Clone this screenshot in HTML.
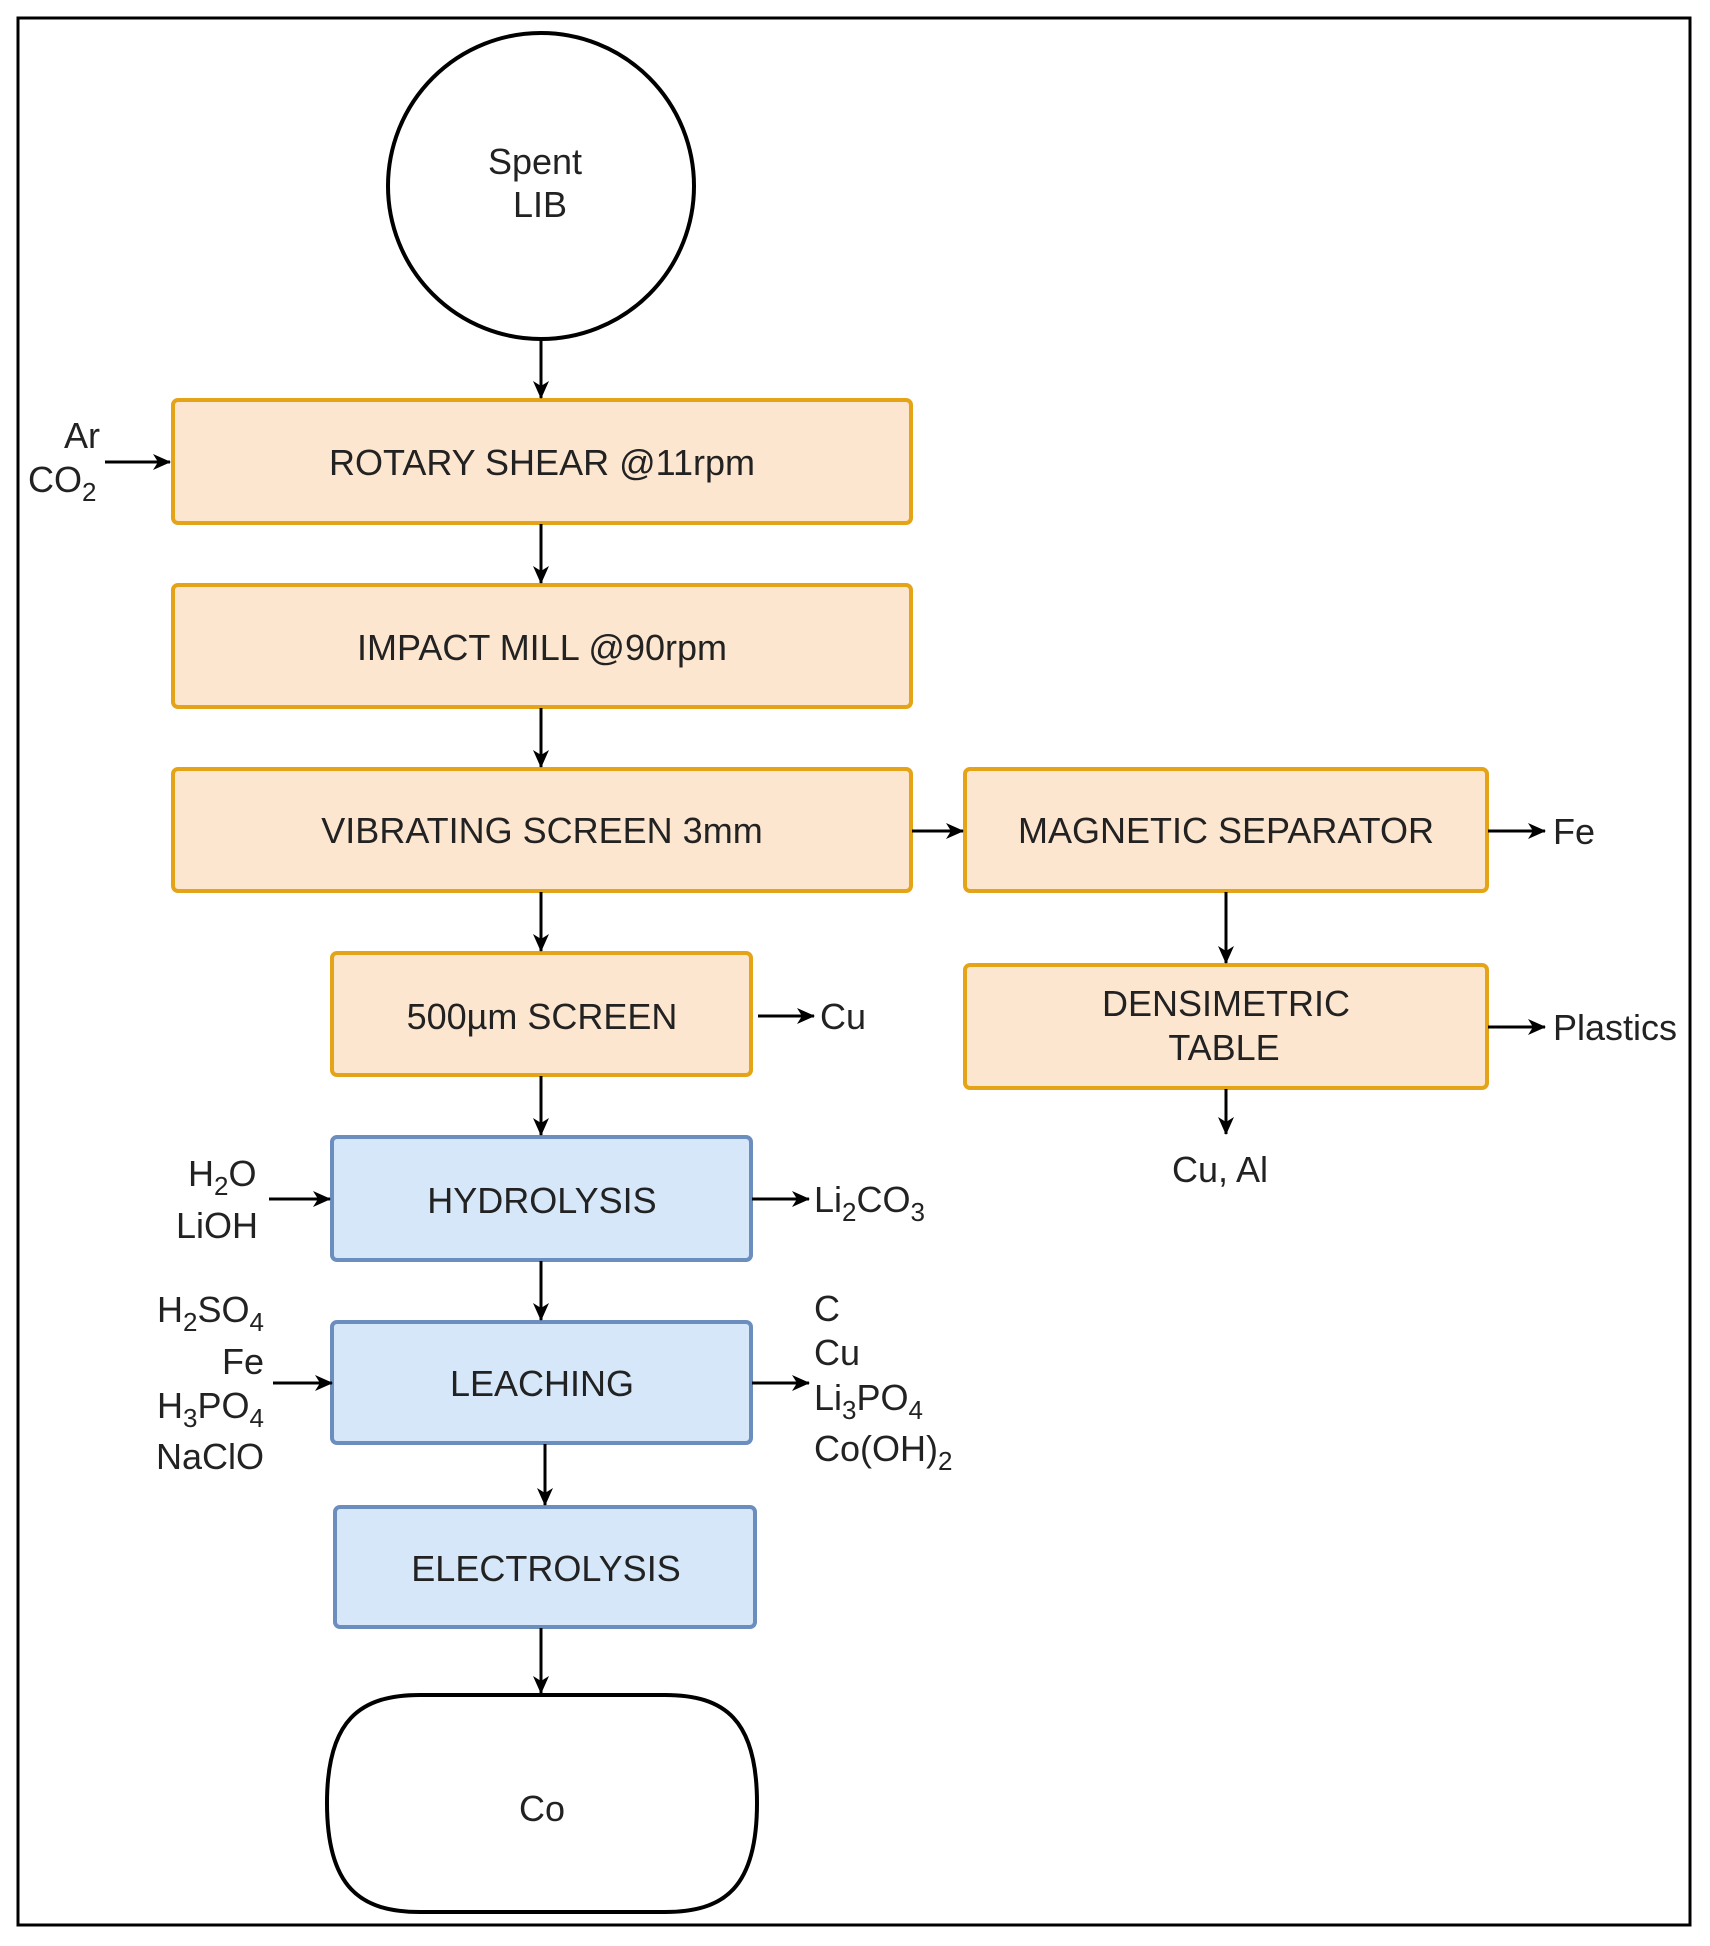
<!DOCTYPE html>
<html><head><meta charset="utf-8"><style>
html,body{margin:0;padding:0;background:#fff}
svg{display:block}
text{font-family:"Liberation Sans",sans-serif;font-size:36px;fill:#222}
</style></head><body>
<svg width="1710" height="1946" viewBox="0 0 1710 1946" xmlns="http://www.w3.org/2000/svg">
<defs>
<marker id="a" markerWidth="18" markerHeight="16" refX="17" refY="8" orient="auto" markerUnits="userSpaceOnUse" viewBox="0 0 18 16">
<path d="M0,0 L18,8 L0,16 L5,8 z" fill="#000"/>
</marker>
</defs>
<style>
.ar{stroke:#000;stroke-width:3;fill:none}
</style>
<rect x="18" y="18" width="1672" height="1907" fill="#fff" stroke="#000" stroke-width="3"/>
<circle cx="541" cy="186" r="153" fill="#fff" stroke="#000" stroke-width="4"/>
<text x="535" y="174" text-anchor="middle">Spent</text>
<text x="540" y="217" text-anchor="middle">LIB</text>

<g fill="#fde6cf" stroke="#e5a417" stroke-width="4">
<rect x="173" y="400" width="738" height="123" rx="5"/>
<rect x="173" y="585" width="738" height="122" rx="5"/>
<rect x="173" y="769" width="738" height="122" rx="5"/>
<rect x="965" y="769" width="522" height="122" rx="5"/>
<rect x="332" y="953" width="419" height="122" rx="5"/>
<rect x="965" y="965" width="522" height="123" rx="5"/>
</g>
<g fill="#d5e7f8" stroke="#6c8ebf" stroke-width="4">
<rect x="332" y="1137" width="419" height="123" rx="5"/>
<rect x="332" y="1322" width="419" height="121" rx="5"/>
<rect x="335" y="1507" width="420" height="120" rx="5"/>
</g>
<path d="M327,1803 C327,1720 360,1695 420,1695 L665,1695 C725,1695 757,1720 757,1803 C757,1887 725,1912 665,1912 L420,1912 C360,1912 327,1887 327,1803 Z" fill="#fff" stroke="#000" stroke-width="4"/>

<g text-anchor="middle">
<text x="542" y="475">ROTARY SHEAR @11rpm</text>
<text x="542" y="660">IMPACT MILL @90rpm</text>
<text x="542" y="843">VIBRATING SCREEN 3mm</text>
<text x="1226" y="843">MAGNETIC SEPARATOR</text>
<text x="542" y="1029">500µm SCREEN</text>
<text x="1226" y="1016">DENSIMETRIC</text>
<text x="1224" y="1060">TABLE</text>
<text x="542" y="1213">HYDROLYSIS</text>
<text x="542" y="1396">LEACHING</text>
<text x="546" y="1581">ELECTROLYSIS</text>
<text x="542" y="1821">Co</text>
</g>

<g class="ar" marker-end="url(#a)">
<line x1="541" y1="340" x2="541" y2="398"/>
<line x1="541" y1="524" x2="541" y2="583"/>
<line x1="541" y1="708" x2="541" y2="767"/>
<line x1="541" y1="892" x2="541" y2="951"/>
<line x1="541" y1="1076" x2="541" y2="1135"/>
<line x1="541" y1="1261" x2="541" y2="1320"/>
<line x1="545" y1="1444" x2="545" y2="1505"/>
<line x1="541" y1="1628" x2="541" y2="1693"/>
<line x1="1226" y1="892" x2="1226" y2="963"/>
<line x1="1226" y1="1089" x2="1226" y2="1134"/>
<line x1="105" y1="462" x2="170" y2="462"/>
<line x1="912" y1="831" x2="963" y2="831"/>
<line x1="1488" y1="831" x2="1545" y2="831"/>
<line x1="1488" y1="1027" x2="1545" y2="1027"/>
<line x1="758" y1="1016" x2="814" y2="1016"/>
<line x1="269" y1="1199" x2="330" y2="1199"/>
<line x1="752" y1="1199" x2="809" y2="1199"/>
<line x1="273" y1="1383" x2="332" y2="1383"/>
<line x1="752" y1="1383" x2="809" y2="1383"/>
</g>

<text x="64" y="448">Ar</text>
<text x="28" y="492">CO<tspan font-size="26" dy="9">2</tspan></text>
<text x="1553" y="844">Fe</text>
<text x="1553" y="1040">Plastics</text>
<text x="820" y="1029">Cu</text>
<text x="1172" y="1182">Cu, Al</text>
<text x="188" y="1186">H<tspan font-size="26" dy="9">2</tspan><tspan dy="-9">O</tspan></text>
<text x="176" y="1238">LiOH</text>
<text x="814" y="1212">Li<tspan font-size="26" dy="9">2</tspan><tspan dy="-9">CO</tspan><tspan font-size="26" dy="9">3</tspan></text>
<g text-anchor="end">
<text x="264" y="1322">H<tspan font-size="26" dy="9">2</tspan><tspan dy="-9">SO</tspan><tspan font-size="26" dy="9">4</tspan></text>
<text x="264" y="1374">Fe</text>
<text x="264" y="1418">H<tspan font-size="26" dy="9">3</tspan><tspan dy="-9">PO</tspan><tspan font-size="26" dy="9">4</tspan></text>
<text x="264" y="1469">NaClO</text>
</g>
<text x="814" y="1321">C</text>
<text x="814" y="1365">Cu</text>
<text x="814" y="1410">Li<tspan font-size="26" dy="9">3</tspan><tspan dy="-9">PO</tspan><tspan font-size="26" dy="9">4</tspan></text>
<text x="814" y="1461">Co(OH)<tspan font-size="26" dy="9">2</tspan></text>
</svg>
</body></html>
